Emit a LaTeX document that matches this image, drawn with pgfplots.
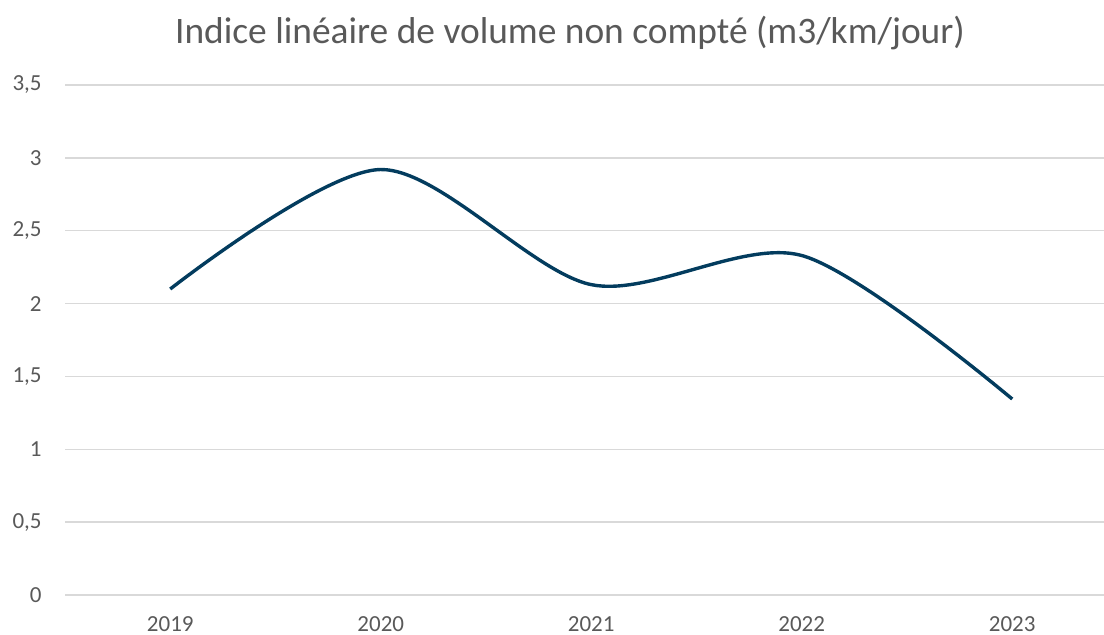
\documentclass[border=0pt]{standalone}
\usepackage{fontspec}
\setmainfont{Carlito}
\usepackage{pgfplots}
\pgfplotsset{compat=1.18}
\definecolor{linecol}{HTML}{033C5E}
\definecolor{gridcol}{HTML}{D9D9D9}
\definecolor{textcol}{HTML}{595959}
\begin{document}
\begin{tikzpicture}
\path[use as bounding box] (0,0) rectangle (552pt,317pt);
\begin{axis}[
    at={(32.5pt,19.5pt)}, anchor=south west,
    scale only axis, width=519.5pt, height=255pt,
    xmin=-0.5, xmax=4.436, ymin=0, ymax=3.5,
    xtick={0,1,2,3,4}, xticklabels={2019,2020,2021,2022,2023},
    ytick={0,0.5,1,1.5,2,2.5,3,3.5},
    /pgf/number format/assume math mode=true,
    /pgf/number format/use comma,
    yticklabel style={anchor=east, inner sep=0pt, xshift=-11.5pt, font=\fontsize{11.5}{12}\selectfont, text=textcol},
    xticklabel style={anchor=base, inner sep=0pt, yshift=-18pt, font=\fontsize{11.5}{12}\selectfont, text=textcol},
    axis line style={draw=none},
    major tick length=0pt,
    ymajorgrids, grid style={gridcol, line width=0.75pt},
    clip=false,
]
\addplot[linecol, line width=1.7pt, smooth, tension=0.5] coordinates {(0,2.10)(1,2.92)(2,2.13)(3,2.33)(4,1.345)};
\end{axis}
\node[text=textcol, font=\fontsize{18.7}{20}\selectfont] at (285pt,300.5pt) {Indice linéaire de volume non compté (m3/km/jour)};
\end{tikzpicture}
\end{document}
